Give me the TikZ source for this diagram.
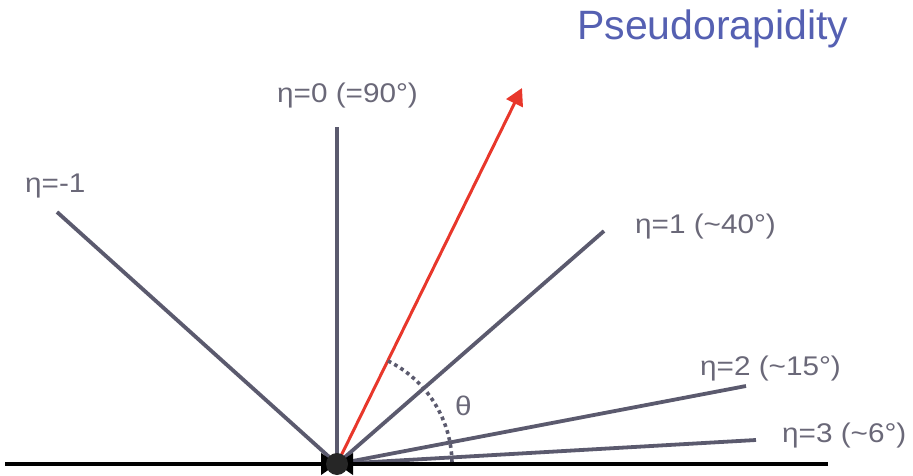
\documentclass[tikz,border=0pt]{standalone}
\usepackage{fontspec}
\setmainfont{Liberation Sans}
\newfontfamily\labfont[FakeStretch=1.1]{Liberation Sans}
\usetikzlibrary{arrows.meta,calc}
\definecolor{ln}{HTML}{5B5A6E}
\definecolor{tx}{HTML}{6A6878}
\definecolor{rd}{HTML}{E8372B}
\definecolor{bl}{HTML}{5560B2}
\begin{document}
\begin{tikzpicture}[x=1pt,y=-1pt,font=\labfont\fontsize{27}{30}\selectfont,
  eta/.style={draw=ln,line width=3.8pt},
  lab/.style={text=tx,inner sep=0pt,anchor=base west},
  beam/.style={draw=black,line width=4.5pt,-{Triangle[length=16pt,width=21pt]}}]
  \useasboundingbox (0,0) rectangle (913,476);
  \coordinate (O) at (337,464);
  \coordinate (L) at (5,464);\coordinate (R) at (828,464);
  \coordinate (m1) at (57,212);\coordinate (e0) at (337,127);\coordinate (e1) at (604,231);
  \coordinate (e2) at (746,386);\coordinate (e3) at (756,440);\coordinate (p) at (522,88);
  \draw[eta](O)--(m1);\draw[eta](O)--(e0);\draw[eta](O)--(e1);\draw[eta](O)--(e2);\draw[eta](O)--(e3);
  \draw[rd,line width=3pt,-{Triangle[length=17pt,width=18pt]}](O)--(p);
  \draw[ln,line width=3.6pt,dash pattern=on 3.6pt off 3.6pt] ($(O)+(-63.7:115)$) arc[start angle=-63.7,end angle=0,radius=115];
  \draw[beam](L)--(O);\draw[beam](R)--(O);
  \fill[black!85](O) circle[radius=11pt];
  \node[lab](nm1) at (25,192){η=-1};
  \node[lab](n0) at (277,103){η=0 (=90°)};
  \node[lab](n1) at (635,233){η=1 (\textasciitilde40°)};
  \node[lab](n2) at (700,375){η=2 (\textasciitilde15°)};
  \node[lab](n3) at (782,442){η=3 (\textasciitilde6°)};
  \node[lab](th) at (455,415){θ};
  \node[lab,text=bl,font=\rmfamily\fontsize{41}{44}\selectfont](ti) at (577,40){Pseudorapidity};
\end{tikzpicture}
\end{document}
